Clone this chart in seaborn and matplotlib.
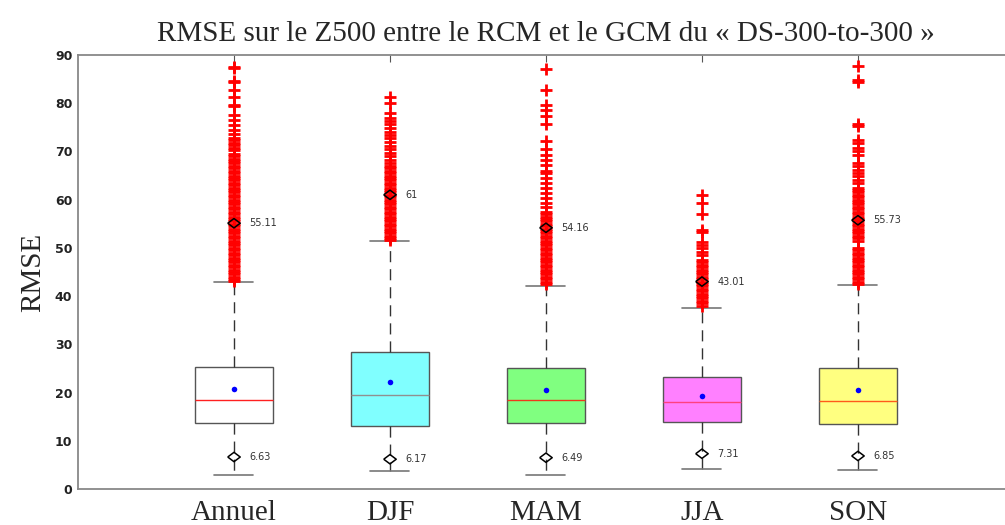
import numpy as np
import pandas as pd
import matplotlib
matplotlib.use('Agg')
import matplotlib.pyplot as plt
import seaborn as sns

# Seasons
saisons = ['Annuel', 'DJF', 'MAM', 'JJA', 'SON']

# Box statistics (lower whisker, Q1, median, Q3, upper whisker)
bas = [2.9, 3.7, 2.9, 4.1, 3.9]
q1 = [13.7, 13.1, 13.7, 13.9, 13.5]
mediane = [18.5, 19.5, 18.5, 18.0, 18.3]
q3 = [25.3, 28.4, 25.1, 23.2, 25.1]
haut = [42.9, 51.4, 42.1, 37.6, 42.3]
moyenne = [20.7, 22.2, 20.5, 19.3, 20.5]

# Labelled percentiles (diamonds)
p_haut = [55.11, 61, 54.16, 43.01, 55.73]
p_bas = [6.63, 6.17, 6.49, 7.31, 6.85]

# Outliers (red crosses)
out_annuel = [87.5, 87.2, 84.6, 84.3, 82.8, 81.2, 79.7, 79.4, 77.6, 76.6, 75.5, 74.5, 73.6,
              72.8, 72.3, 71.8, 71.4, 70.7, 70.3, 69.4, 69.0, 68.4, 68.0, 67.5, 67.0,
              66.5, 66.0, 65.5, 65.0, 64.5, 64.0, 63.5, 63.0, 62.5, 62.0, 61.5, 61.0,
              60.5, 60.0, 59.5, 59.0, 58.5, 58.0, 57.5, 57.0, 56.5, 56.0, 55.5, 55.0,
              54.5, 54.0, 53.5, 53.0, 52.5, 52.0, 51.5, 51.0, 50.5, 50.0, 49.5, 49.0,
              48.5, 48.0, 47.5, 47.0, 46.5, 46.0, 45.5, 45.0, 44.5, 44.0, 43.5, 43.1]
out_djf = [81.3, 80.1, 77.9, 77.0, 76.3, 75.6, 74.8, 74.1, 73.4, 72.7, 71.9, 71.2, 70.5,
           69.7, 69.0, 68.3, 67.6, 67.0, 66.5, 66.0, 65.5, 65.0, 64.5, 64.0, 63.5, 63.0,
           62.5, 62.0, 61.5, 61.0, 60.5, 60.0, 59.5, 59.0, 58.5, 58.0, 57.5, 57.0, 56.5,
           56.0, 55.5, 55.0, 54.5, 54.0, 53.5, 53.0, 52.5, 52.0, 51.6]
out_mam = [87.1, 82.8, 79.7, 78.6, 77.4, 75.7, 72.2, 70.5, 69.3, 68.3, 67.2, 66.0, 65.6,
           64.5, 63.4, 62.4, 61.3, 60.3, 59.3, 58.4, 57.5, 57.0, 56.5, 56.0, 55.5, 55.0,
           54.5, 54.0, 53.5, 53.0, 52.5, 52.0, 51.5, 51.0, 50.5, 50.0, 49.5, 49.0, 48.5,
           48.0, 47.5, 47.0, 46.5, 46.0, 45.5, 45.0, 44.5, 44.0, 43.5, 43.0, 42.5]
out_jja = [61.0, 59.3, 57.0, 53.7, 53.3, 51.3, 50.6, 49.9, 49.2, 48.5, 47.5, 47.0, 46.5,
           46.0, 45.5, 45.0, 44.5, 44.0, 43.5, 43.0, 42.5, 42.0, 41.5, 41.0, 40.5, 40.0,
           39.5, 39.0, 38.5, 38.0]
out_son = [87.7, 84.9, 84.4, 75.6, 75.3, 72.4, 71.7, 70.7, 70.0, 69.3, 67.6, 66.9, 66.2,
           65.5, 64.8, 64.1, 63.4, 62.5, 62.0, 61.5, 61.0, 60.5, 60.0, 59.5, 59.0, 58.5,
           58.0, 57.5, 57.0, 56.5, 56.0, 55.5, 55.0, 54.5, 54.0, 53.5, 53.0, 52.5, 52.0,
           51.5, 50.0, 49.5, 49.0, 48.5, 48.0, 47.5, 47.0, 46.5, 46.0, 45.5, 45.0, 44.5,
           44.0, 43.5, 43.0, 42.5]

couleurs = ['#ffffff', '#80ffff', '#80ff80', '#ff80ff', '#ffff80']
couleurs_med = ['#ff2020', '#909090', '#f03a1a', '#ff4080', '#ff5a1a']

sns.set_style('white')
plt.rcParams['font.family'] = ['DejaVu Sans']

fig = plt.figure(figsize=(10.05, 5.25), dpi=100)
ax = fig.add_axes([0.0776, 0.0686, 0.9313, 0.8267])

# boxes: 5 points per season give exactly the read quartiles with whis=(0, 100)
for i, s in enumerate(saisons):
    vals = [bas[i], q1[i], mediane[i], q3[i], haut[i]]
    sns.boxplot(x=[s] * 5, y=vals, order=saisons, ax=ax, width=0.5, whis=(0, 100),
                showfliers=False, color=couleurs[i], saturation=1, linecolor='#555555',
                linewidth=1,
                medianprops=dict(color=couleurs_med[i], linewidth=1),
                whiskerprops=dict(color='#333333', linestyle=(0, (8, 5)), linewidth=1),
                capprops=dict(color='#777777', linewidth=1.2))

outliers = pd.DataFrame({
    'saison': sum([[s] * len(v) for s, v in zip(saisons, [out_annuel, out_djf, out_mam, out_jja, out_son])], []),
    'rmse': out_annuel + out_djf + out_mam + out_jja + out_son,
})
sns.stripplot(data=outliers, x='saison', y='rmse', order=saisons, jitter=False,
              marker='+', color='red', size=8, linewidth=2.0, ax=ax, zorder=4)

sns.stripplot(x=saisons, y=moyenne, order=saisons, jitter=False, marker='o',
              color='blue', size=4, linewidth=0, ax=ax, zorder=5)

losange = [(-1, 0), (0, 0.75), (1, 0), (0, -0.75), (-1, 0)]
diam = pd.DataFrame({'saison': saisons * 2, 'val': p_haut + p_bas})
sns.stripplot(data=diam, x='saison', y='val', order=saisons, jitter=False, marker=losange,
              facecolors='none', edgecolor='black', linewidth=1.1, size=9, ax=ax, zorder=6)
for i, s in enumerate(saisons):
    for v in (p_haut[i], p_bas[i]):
        ax.annotate(f'{v:g}', xy=(i, v), xytext=(11, 0), textcoords='offset points',
                    va='center', ha='left', fontsize=7, color='#333333')

ax.set_xlim(-1, 5)
ax.set_ylim(0, 90)
ax.set_yticks(range(0, 91, 10))
ax.set_xlabel('')
ax.set_ylabel('RMSE', family='Liberation Serif', fontsize=21, labelpad=6)
ax.set_title('RMSE sur le Z500 entre le RCM et le GCM du « DS-300-to-300 »',
             family='Liberation Serif', fontsize=21, pad=10)

for sp in ax.spines.values():
    sp.set_visible(True)
    sp.set_color('#888888')
    sp.set_linewidth(1.3)

ax.tick_params(axis='y', direction='in', length=6, color='#888888', pad=4,
               labelsize=9, labelcolor='#222222')
for t in ax.get_yticklabels():
    t.set_fontweight('bold')
ax.tick_params(axis='x', direction='in', length=5, color='#555555', top=True, pad=8)
for t in ax.get_xticklabels():
    t.set_family('Liberation Serif')
    t.set_fontsize(21)

fig.savefig('out.png', dpi=100)
